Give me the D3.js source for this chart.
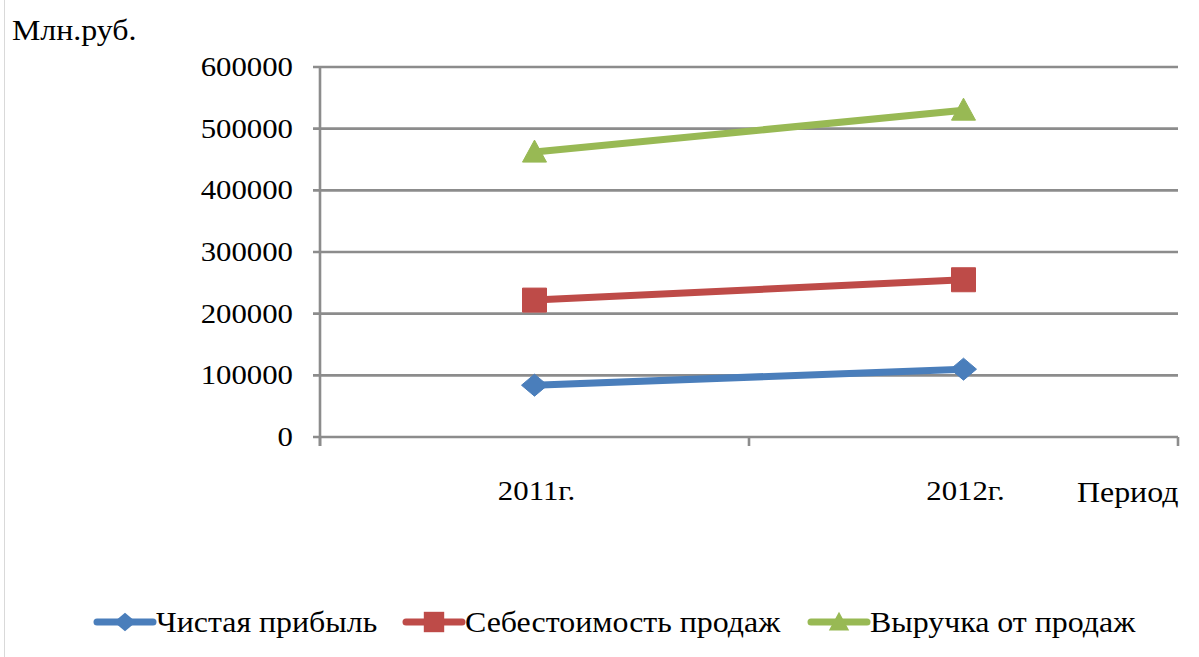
<!DOCTYPE html>
<html><head><meta charset="utf-8">
<script src="https://cdn.jsdelivr.net/npm/d3@7"></script>
<style>body{margin:0;background:#fff}svg{display:block}</style>
</head><body><svg id="c" width="1199" height="657"></svg>
<script>
const categories = ["2011г.", "2012г."];
const seriesNames = ["Чистая прибыль", "Себестоимость продаж", "Выручка от продаж"];
const netProfit = [84000, 110000];
const costOfSales = [222000, 255000];
const revenue = [462000, 530000];
const yTicks = [0, 100000, 200000, 300000, 400000, 500000, 600000];
const colors = ["#4a7ebb", "#be4b48", "#98b954"];

const svg = d3.select("#c");
const L = 320, R = 1178, T = 67, B = 437;
const SX = 1.1;
const FONT = "'Liberation Serif', 'Times New Roman', Times, serif";
function txt(g, s, x, y, anchor, fs) {
  return g.append("text").attr("transform", `translate(${x},${y}) scale(${SX},1)`)
    .attr("text-anchor", anchor || "start").attr("font-family", FONT)
    .attr("font-size", fs || 29).attr("fill", "#000").text(s);
}
svg.append("rect").attr("x", 4.5).attr("y", -2).attr("width", 1300).attr("height", 700)
  .attr("fill", "none").attr("stroke", "#d9d9d9");

const x = d3.scaleBand().domain(categories).range([L, R]);
const y = d3.scaleLinear().domain([0, 600000]).range([B, T]);

const grid = svg.append("g");
yTicks.forEach(t => {
  grid.append("line").attr("x1", L - 7).attr("x2", R).attr("y1", y(t)).attr("y2", y(t))
    .attr("stroke", "#8c8c8c").attr("stroke-width", 2.6);
  txt(svg, d3.format("d")(t), 293, y(t) + 9, "end", 28);
});
grid.append("line").attr("x1", L).attr("x2", L).attr("y1", T).attr("y2", B + 9)
  .attr("stroke", "#8c8c8c").attr("stroke-width", 2.6);
const xb = [L, L + x.bandwidth(), R];
xb.forEach(v => grid.append("line").attr("x1", v).attr("x2", v).attr("y1", B).attr("y2", B + 9)
  .attr("stroke", "#8c8c8c").attr("stroke-width", 2.6));

categories.forEach(c => txt(svg, c, x(c) + x.bandwidth() / 2 + 2, 500, "middle", 28));
txt(svg, "Млн.руб.", 12, 40);
txt(svg, "Период", 1077, 502);

function marker(k, s) {
  if (k === 0) return `M${-13*s},0L0,${-11*s}L${13*s},0L0,${11*s}Z`;
  if (k === 1) return `M${-12*s},${-12*s}H${12*s}V${12*s}H${-12*s}Z`;
  return `M0,${-12*s}L${12*s},${10*s}H${-12*s}Z`;
}

const data = [netProfit, costOfSales, revenue];
const cx = i => x(categories[i]) + x.bandwidth() / 2;
const line = d3.line().x((d, i) => cx(i)).y(d => y(d));
data.forEach((vals, k) => {
  svg.append("path").attr("d", line(vals)).attr("fill", "none")
    .attr("stroke", colors[k]).attr("stroke-width", 7);
  vals.forEach((v, i) => {
    svg.append("path").attr("d", marker(k, 1))
      .attr("transform", `translate(${cx(i)},${y(v)})`)
      .attr("fill", colors[k]).attr("stroke", colors[k]).attr("stroke-width", 1).attr("stroke-linejoin", "round");
  });
});

// legend
const legX = [97, 406, 811];
const legY = 622;
seriesNames.forEach((n, k) => {
  const g = svg.append("g");
  g.append("line").attr("x1", legX[k]).attr("x2", legX[k] + 56).attr("y1", legY).attr("y2", legY)
    .attr("stroke", colors[k]).attr("stroke-width", 7).attr("stroke-linecap", "round");
  g.append("path").attr("d", marker(k, 0.85))
    .attr("transform", `translate(${legX[k] + 28},${legY})`).attr("fill", colors[k]);
  txt(g, n, legX[k] + 59, legY + 10);
});
</script></body></html>
